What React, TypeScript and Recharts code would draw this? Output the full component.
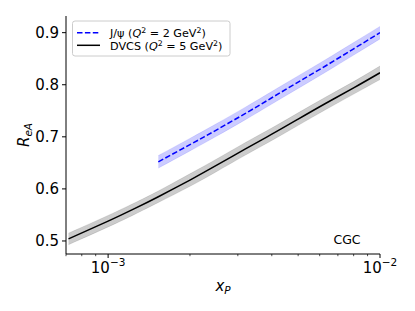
import React from 'react';
import { ComposedChart, Line, Area, XAxis, YAxis, Customized } from 'recharts';

// ---- data ----
const xValues = [7.15e-4, 1e-3, 1.25e-3, 1.53e-3, 2e-3, 2.5e-3, 3.2e-3, 4e-3, 5e-3, 6.3e-3, 8e-3, 1e-2];
const dvcsMid = [0.504, 0.538, 0.562, 0.585, 0.617, 0.645, 0.677, 0.705, 0.734, 0.764, 0.794, 0.823];
const dvcsLow = [0.493, 0.527, 0.551, 0.574, 0.605, 0.633, 0.665, 0.693, 0.722, 0.752, 0.782, 0.81];
const dvcsHigh = [0.515, 0.549, 0.573, 0.596, 0.629, 0.657, 0.689, 0.717, 0.746, 0.776, 0.806, 0.836];
const jpsiMid = [null, null, null, 0.652, 0.685, 0.713, 0.745, 0.775, 0.805, 0.836, 0.869, 0.9];
const jpsiLow = [null, null, null, 0.64, 0.673, 0.701, 0.733, 0.763, 0.793, 0.824, 0.857, 0.888];
const jpsiHigh = [null, null, null, 0.664, 0.697, 0.725, 0.757, 0.787, 0.817, 0.848, 0.881, 0.912];

const xDomain = [7e-4, 1e-2];
const yDomain = [0.475, 0.932];
const xMajorTicks = [1e-3, 1e-2];
const xMajorLabels = ['−3', '−2'];
const xAllTicks = [7e-4, 8e-4, 9e-4, 1e-3, 2e-3, 3e-3, 4e-3, 5e-3, 6e-3, 7e-3, 8e-3, 9e-3, 1e-2];
const yTicks = [0.5, 0.6, 0.7, 0.8, 0.9];
const yTickLabels = ['0.5', '0.6', '0.7', '0.8', '0.9'];

const data = xValues.map((x, i) => ({
  x,
  dvcs: dvcsMid[i],
  dvcsBand: [dvcsLow[i], dvcsHigh[i]],
  jpsi: jpsiMid[i],
  jpsiBand: jpsiMid[i] == null ? null : [jpsiLow[i], jpsiHigh[i]],
}));

const FONT = 'DejaVu Sans';

const XTick = (props: any) => {
  const { x, y, payload } = props;
  const v = payload.value;
  const idx = xMajorTicks.findIndex((t) => Math.abs(t - v) / t < 1e-6);
  const major = idx >= 0;
  return (
    <g>
      <line x1={x} x2={x} y1={y} y2={y + (major ? 4 : 2.2)} stroke="#000" strokeWidth={major ? 1 : 0.7} />
      {major && (
        <text x={x} y={y + 19} textAnchor="middle" fontSize={15} fontFamily={FONT} fill="#000">
          10
          <tspan dy={-7} fontSize={10.5}>{xMajorLabels[idx]}</tspan>
        </text>
      )}
    </g>
  );
};

const YTick = (props: any) => {
  const { x, y, payload } = props;
  const idx = yTicks.findIndex((t) => Math.abs(t - payload.value) < 1e-9);
  return (
    <text x={x} y={y} dy="0.36em" textAnchor="end" fontSize={15} fontFamily={FONT} fill="#000">
      {idx >= 0 ? yTickLabels[idx] : ''}
    </text>
  );
};

const YLabel = (props: any) => {
  const { viewBox } = props;
  const cx = 24;
  const cy = viewBox.y + viewBox.height / 2;
  return (
    <text transform={`translate(${cx},${cy}) rotate(-90)`} textAnchor="middle" fontSize={15} fontFamily={FONT} fill="#000" dy="0.35em">
      <tspan fontStyle="italic">R</tspan>
      <tspan fontStyle="italic" fontSize={10.5} dy={3}>eA</tspan>
    </text>
  );
};

const XLabel = (props: any) => {
  const { viewBox } = props;
  const cx = viewBox.x + viewBox.width / 2;
  return (
    <text x={cx} y={viewBox.y + 37} textAnchor="middle" fontSize={15} fontFamily={FONT} fill="#000">
      <tspan fontStyle="italic">x</tspan>
      <tspan fontStyle="italic" fontSize={10.5} dy={3}>P</tspan>
    </text>
  );
};

const Overlay = () => (
  <g fontFamily={FONT} fill="#000">
    <rect x={72.5} y={21} width={157.5} height={35} rx={2.5} fill="#fff" fillOpacity={0.8} stroke="#cccccc" strokeWidth={1} />
    <line x1={77} x2={100} y1={32.7} y2={32.7} stroke="#0000ff" strokeWidth={1.5} strokeDasharray="5.5 2.4" />
    <line x1={77} x2={100} y1={45.3} y2={45.3} stroke="#000" strokeWidth={1.5} />
    <text x={110} y={36.8} fontSize={11.2}>
      J/ψ (<tspan fontStyle="italic">Q</tspan>
      <tspan dy={-4} fontSize={7.8}>2</tspan>
      <tspan dy={4}> = 2 GeV</tspan>
      <tspan dy={-4} fontSize={7.8}>2</tspan>
      <tspan dy={4}>)</tspan>
    </text>
    <text x={110} y={49.6} fontSize={11.2}>
      DVCS (<tspan fontStyle="italic">Q</tspan>
      <tspan dy={-4} fontSize={7.8}>2</tspan>
      <tspan dy={4}> = 5 GeV</tspan>
      <tspan dy={-4} fontSize={7.8}>2</tspan>
      <tspan dy={4}>)</tspan>
    </text>
    <text x={347} y={243.5} textAnchor="middle" fontSize={12.5}>CGC</text>
  </g>
);

export default function App() {
  return (
    <div style={{ position: 'absolute', left: 0, top: 0, width: 415, height: 311, background: '#fff' }}>
      <ComposedChart width={415} height={311} data={data} margin={{ top: 16, right: 35, bottom: 0, left: 0 }}>
        <XAxis
          dataKey="x"
          type="number"
          scale="log"
          domain={xDomain}
          allowDataOverflow
          ticks={xAllTicks}
          interval={0}
          height={57}
          tick={<XTick />}
          tickLine={false}
          tickSize={0}
          tickMargin={0}
          axisLine={{ stroke: '#000', strokeWidth: 1 }}
          label={<XLabel />}
        />
        <XAxis
          xAxisId="top"
          dataKey="x"
          orientation="top"
          type="number"
          scale="log"
          domain={xDomain}
          allowDataOverflow
          height={0}
          tick={false}
          tickLine={false}
          axisLine={{ stroke: '#000', strokeWidth: 1 }}
        />
        <YAxis
          type="number"
          domain={yDomain}
          allowDataOverflow
          ticks={yTicks}
          interval={0}
          width={66}
          tickSize={4}
          tickMargin={3}
          tickLine={{ stroke: '#000', strokeWidth: 1 }}
          tick={<YTick />}
          axisLine={{ stroke: '#000', strokeWidth: 1 }}
          label={<YLabel />}
        />
        <YAxis
          yAxisId="right"
          orientation="right"
          type="number"
          domain={yDomain}
          allowDataOverflow
          ticks={yTicks}
          interval={0}
          width={0}
          mirror
          tickSize={4}
          tick={false}
          tickLine={{ stroke: '#000', strokeWidth: 1 }}
          axisLine={{ stroke: '#000', strokeWidth: 1 }}
        />
        <Area dataKey="dvcsBand" type="natural" fill="#000" fillOpacity={0.2} stroke="#000" strokeOpacity={0.1} isAnimationActive={false} />
        <Area dataKey="jpsiBand" type="natural" fill="#0000ff" fillOpacity={0.2} stroke="#0000ff" strokeOpacity={0.1} isAnimationActive={false} />
        <Line dataKey="dvcs" type="natural" stroke="#000" strokeWidth={1.5} dot={false} isAnimationActive={false} />
        <Line dataKey="jpsi" type="natural" stroke="#0000ff" strokeWidth={1.5} strokeDasharray="5.5 2.4" dot={false} isAnimationActive={false} />
        <Customized component={<Overlay />} />
      </ComposedChart>
    </div>
  );
}
